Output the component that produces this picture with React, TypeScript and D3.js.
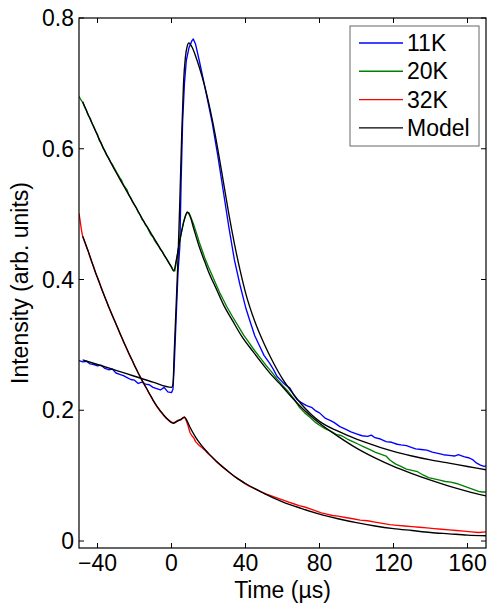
import React from "react";
import * as d3 from "d3";

type P = [number, number];

const xTicks = [-40, 0, 40, 80, 120, 160];
const yTicks = [0, 0.2, 0.4, 0.6, 0.8];
const seriesNames = ["11K", "20K", "32K", "Model"];
const seriesColors = ["#0000ff", "#008000", "#ff0000", "#000000"];

const data11K: P[] = [
  [-50, 0.276], [-48, 0.274], [-46, 0.275], [-44, 0.271], [-42, 0.270], [-40, 0.268], [-38, 0.269], [-36, 0.264],
  [-34, 0.262], [-32, 0.263], [-30, 0.257], [-28, 0.255], [-26, 0.253], [-24, 0.250], [-22, 0.247], [-20, 0.246],
  [-18, 0.241], [-16, 0.243], [-14, 0.240], [-12, 0.239], [-10, 0.235], [-8, 0.233], [-6, 0.231], [-4, 0.235],
  [-2, 0.228], [0, 0.227], [0.8, 0.232], [1.5, 0.27], [2.5, 0.34], [3.5, 0.41], [4.5, 0.45], [5.2, 0.55],
  [6, 0.64], [7, 0.70], [8, 0.735], [9.5, 0.755], [11, 0.765], [11.8, 0.768], [13, 0.76], [15, 0.735],
  [18, 0.695], [22, 0.64], [25, 0.59], [28, 0.535], [31, 0.48], [34, 0.43], [37, 0.392], [40, 0.358],
  [42, 0.34], [45, 0.314], [48, 0.296], [50, 0.284], [53, 0.272], [55, 0.263], [57, 0.252], [60, 0.243],
  [62, 0.238], [64, 0.234], [66, 0.224], [68, 0.216], [70, 0.212], [73, 0.207], [76, 0.204], [78, 0.199],
  [80, 0.196], [83, 0.188], [86, 0.184], [88, 0.181], [91, 0.175], [94, 0.171], [97, 0.167], [100, 0.164],
  [103, 0.161], [106, 0.160], [108, 0.162], [110, 0.158], [113, 0.156], [116, 0.152], [119, 0.151], [122, 0.148],
  [124, 0.147], [127, 0.146], [130, 0.143], [132, 0.141], [135, 0.140], [138, 0.139], [141, 0.136], [144, 0.134],
  [147, 0.132], [150, 0.131], [153, 0.130], [155, 0.132], [158, 0.129], [161, 0.127], [163, 0.124], [165, 0.119],
  [167, 0.116], [169, 0.114], [170, 0.115],
];

const data20K: P[] = [
  [-50, 0.680], [-49, 0.675], [-48, 0.671], [-47, 0.664], [-46, 0.659], [-45, 0.651], [-44, 0.647], [-43, 0.639],
  [-42, 0.634], [-41, 0.627], [-40, 0.622], [-39, 0.613], [-38, 0.609], [-37, 0.601], [-36, 0.597], [-35, 0.590],
  [-34, 0.586], [-33, 0.580], [-32, 0.576], [-31, 0.571], [-30, 0.566], [-29, 0.561], [-28, 0.556], [-27, 0.552],
  [-26, 0.545], [-25, 0.541], [-24, 0.537], [-23, 0.529], [-22, 0.525], [-21, 0.518], [-20, 0.514], [-19, 0.510],
  [-18, 0.503], [-17, 0.499], [-16, 0.492], [-15, 0.489], [-14, 0.483], [-13, 0.480], [-12, 0.473], [-11, 0.468],
  [-10, 0.465], [-9, 0.459], [-8, 0.455], [-7, 0.451], [-6, 0.446], [-5, 0.443], [-4, 0.437], [-3, 0.433],
  [-2, 0.428], [-1, 0.423], [0, 0.419], [1, 0.414], [1.8, 0.413], [2.5, 0.425], [3.5, 0.443], [4.5, 0.46],
  [5.5, 0.474], [6.5, 0.488], [7.5, 0.497], [8.6, 0.503], [9.5, 0.502], [10.5, 0.495], [12, 0.484], [13.5, 0.471],
  [15, 0.457], [16.5, 0.445], [18, 0.433], [20, 0.419], [22, 0.406], [24, 0.393], [26, 0.380], [28, 0.369],
  [30, 0.358], [33, 0.343], [36, 0.329], [39, 0.315], [42, 0.303], [45, 0.291], [48, 0.280], [51, 0.269],
  [54, 0.259], [57, 0.248], [60, 0.238], [63, 0.229], [66, 0.218], [69, 0.205], [72, 0.196], [75, 0.189],
  [78, 0.181], [80, 0.177], [83, 0.172], [86, 0.168], [89, 0.163], [92, 0.161], [95, 0.156], [98, 0.152],
  [101, 0.148], [104, 0.144], [107, 0.140], [110, 0.136], [113, 0.133], [116, 0.130], [118, 0.124], [121, 0.118],
  [124, 0.114], [127, 0.110], [130, 0.108], [133, 0.106], [136, 0.101], [139, 0.097], [142, 0.095], [145, 0.093],
  [148, 0.091], [151, 0.090], [154, 0.088], [157, 0.085], [160, 0.082], [163, 0.079], [166, 0.076], [168, 0.075],
  [170, 0.075],
];

const data32K: P[] = [
  [-50, 0.501], [-49.5, 0.492], [-49, 0.482], [-48.5, 0.473], [-48, 0.466], [-47, 0.458], [-46, 0.450], [-45, 0.443],
  [-44, 0.434], [-43, 0.426], [-42, 0.419], [-41, 0.410], [-40, 0.403], [-39, 0.396], [-38, 0.387], [-37, 0.380],
  [-36, 0.373], [-35, 0.366], [-34, 0.358], [-33, 0.352], [-32, 0.345], [-31, 0.338], [-30, 0.332], [-29, 0.325],
  [-28, 0.318], [-27, 0.312], [-26, 0.305], [-25, 0.299], [-24, 0.293], [-23, 0.286], [-22, 0.280], [-21, 0.275],
  [-20, 0.268], [-19, 0.263], [-18, 0.257], [-17, 0.252], [-16, 0.246], [-15, 0.241], [-14, 0.236], [-13, 0.231],
  [-12, 0.225], [-11, 0.221], [-10, 0.215], [-9, 0.211], [-8, 0.206], [-7, 0.202], [-6, 0.198], [-5, 0.195],
  [-4, 0.191], [-3, 0.188], [-2, 0.186], [-1, 0.184], [0, 0.182], [1, 0.181], [2, 0.182], [3, 0.184],
  [4, 0.185], [5, 0.185], [6, 0.188], [7, 0.190], [8, 0.184], [9, 0.176], [10, 0.166], [11, 0.161],
  [12, 0.158], [13, 0.152], [14, 0.149], [15, 0.146], [16, 0.144], [18, 0.139], [20, 0.133], [22, 0.128],
  [24, 0.122], [26, 0.117], [28, 0.112], [30, 0.108], [33, 0.101], [36, 0.095], [39, 0.089], [42, 0.084],
  [45, 0.080], [48, 0.076], [51, 0.072], [54, 0.069], [57, 0.066], [60, 0.063], [63, 0.060], [66, 0.057],
  [69, 0.054], [72, 0.052], [75, 0.049], [78, 0.046], [81, 0.043], [84, 0.041], [87, 0.039], [90, 0.038],
  [94, 0.036], [98, 0.034], [102, 0.032], [106, 0.031], [110, 0.029], [114, 0.027], [118, 0.025], [122, 0.024],
  [126, 0.023], [130, 0.022], [134, 0.021], [138, 0.020], [142, 0.019], [146, 0.018], [150, 0.017], [154, 0.016],
  [158, 0.015], [162, 0.014], [166, 0.013], [170, 0.014],
];

const model11K: P[] = [
  [-48, 0.277], [-40, 0.270], [-30, 0.261], [-20, 0.252], [-10, 0.243], [0, 0.235], [0.8, 0.24], [1.5, 0.29],
  [2.5, 0.36], [3.5, 0.43], [4.5, 0.52], [5.5, 0.62], [6.5, 0.70], [7.5, 0.74], [8.5, 0.757], [9.4, 0.762],
  [11, 0.756], [13, 0.742], [15, 0.725], [18, 0.695], [22, 0.645], [25, 0.60], [28, 0.55], [31, 0.50],
  [34, 0.455], [37, 0.415], [40, 0.38], [45, 0.336], [50, 0.302], [55, 0.273], [60, 0.248], [65, 0.228],
  [70, 0.210], [75, 0.195], [80, 0.183], [90, 0.168], [100, 0.156], [110, 0.146], [120, 0.137], [130, 0.130],
  [140, 0.124], [150, 0.119], [160, 0.114], [170, 0.109],
];

const model20K: P[] = [
  [-48, 0.672], [-45, 0.652], [-42, 0.633], [-39, 0.614], [-36, 0.596], [-33, 0.580], [-30, 0.564], [-27, 0.549],
  [-24, 0.534], [-21, 0.519], [-18, 0.504], [-15, 0.489], [-12, 0.475], [-9, 0.461], [-6, 0.447], [-3, 0.433],
  [0, 0.419], [1.2, 0.413], [2.5, 0.428], [4, 0.452], [5.5, 0.474], [7, 0.492], [8.5, 0.503], [10, 0.497],
  [12, 0.478], [15, 0.45], [18, 0.427], [20, 0.412], [24, 0.387], [28, 0.362], [33, 0.337], [38, 0.313],
  [44, 0.290], [50, 0.268], [55, 0.251], [60, 0.236], [65, 0.220], [70, 0.205], [75, 0.192], [80, 0.180],
  [90, 0.160], [100, 0.142], [110, 0.127], [120, 0.114], [130, 0.103], [140, 0.093], [150, 0.084], [160, 0.076],
  [170, 0.069],
];

const model32K: P[] = [
  [-48, 0.466], [-45, 0.443], [-42, 0.418], [-39, 0.395], [-36, 0.373], [-33, 0.352], [-30, 0.332], [-27, 0.312],
  [-24, 0.293], [-21, 0.275], [-18, 0.257], [-15, 0.241], [-12, 0.226], [-9, 0.211], [-6, 0.199], [-3, 0.189],
  [0, 0.181], [1, 0.180], [3, 0.183], [5, 0.186], [7, 0.189], [8, 0.186], [10, 0.174], [13, 0.159],
  [16, 0.147], [20, 0.134], [25, 0.120], [30, 0.108], [35, 0.097], [40, 0.088], [45, 0.080], [50, 0.073],
  [55, 0.066], [60, 0.060], [70, 0.050], [80, 0.041], [90, 0.034], [100, 0.028], [110, 0.023], [120, 0.019],
  [130, 0.016], [140, 0.013], [150, 0.011], [160, 0.009], [170, 0.008],
];

const W = 488;
const H = 603;
const L = 79, R = 486, T = 18, B = 548;
const FONT = "'Liberation Sans', Arial, Helvetica, sans-serif";
const FS = 23;

export default function App() {
  const x = d3.scaleLinear().domain([-50, 170]).range([L, R]);
  const y = d3.scaleLinear().domain([-0.0107, 0.8]).range([B, T]);
  const line = d3.line<P>().x((d) => x(d[0])).y((d) => y(d[1]));
  const smooth = d3.line<P>().x((d) => x(d[0])).y((d) => y(d[1])).curve(d3.curveMonotoneX);

  const dataSeries = [data11K, data20K, data32K];
  const models = [model11K, model20K, model32K];
  const tickLen = 5;

  return (
    <svg width={W} height={H} style={{ position: "absolute", left: 0, top: 0, background: "#fff" }} fontFamily={FONT}>
      <rect x={0} y={0} width={W} height={H} fill="#fff" />
      <defs>
        <clipPath id="plotclip">
          <rect x={L} y={T} width={R - L} height={B - T} />
        </clipPath>
      </defs>
      <g clipPath="url(#plotclip)" fill="none" strokeWidth={1.35} strokeLinejoin="round">
        {dataSeries.map((s, i) => (
          <path key={"d" + i} d={line(s) || ""} stroke={seriesColors[i]} />
        ))}
        {models.map((s, i) => (
          <path key={"m" + i} d={smooth(s) || ""} stroke="#000" />
        ))}
      </g>
      <rect x={L} y={T} width={R - L} height={B - T} fill="none" stroke="#000" strokeWidth={1.2} />
      {xTicks.map((t) => (
        <g key={"xt" + t}>
          <line x1={x(t)} x2={x(t)} y1={B} y2={B - tickLen} stroke="#000" strokeWidth={1} />
          <line x1={x(t)} x2={x(t)} y1={T} y2={T + tickLen} stroke="#000" strokeWidth={1} />
          <text x={x(t)} y={571} textAnchor="middle" fontSize={FS} fill="#000">
            {t < 0 ? "\u2212" + Math.abs(t) : String(t)}
          </text>
        </g>
      ))}
      {yTicks.map((t) => (
        <g key={"yt" + t}>
          <line x1={L} x2={L + tickLen} y1={y(t)} y2={y(t)} stroke="#000" strokeWidth={1} />
          <line x1={R} x2={R - tickLen} y1={y(t)} y2={y(t)} stroke="#000" strokeWidth={1} />
          <text x={74} y={y(t) + 8} textAnchor="end" fontSize={FS} fill="#000">
            {String(t)}
          </text>
        </g>
      ))}
      <text x={(L + R) / 2} y={598} textAnchor="middle" fontSize={FS} fill="#000">
        Time (µs)
      </text>
      <text transform={`translate(28, ${(T + B) / 2}) rotate(-90)`} textAnchor="middle" fontSize={FS} fill="#000">
        Intensity (arb. units)
      </text>
      <rect x={350} y={26} width={129} height={120} fill="#fff" stroke="#666" strokeWidth={1} />
      {seriesNames.map((n, i) => (
        <g key={"lg" + n}>
          <line x1={359} x2={403} y1={43 + i * 28.3} y2={43 + i * 28.3} stroke={seriesColors[i]} strokeWidth={1.4} />
          <text x={407} y={43 + i * 28.3 + 8} fontSize={FS} fill="#000">
            {n}
          </text>
        </g>
      ))}
    </svg>
  );
}
